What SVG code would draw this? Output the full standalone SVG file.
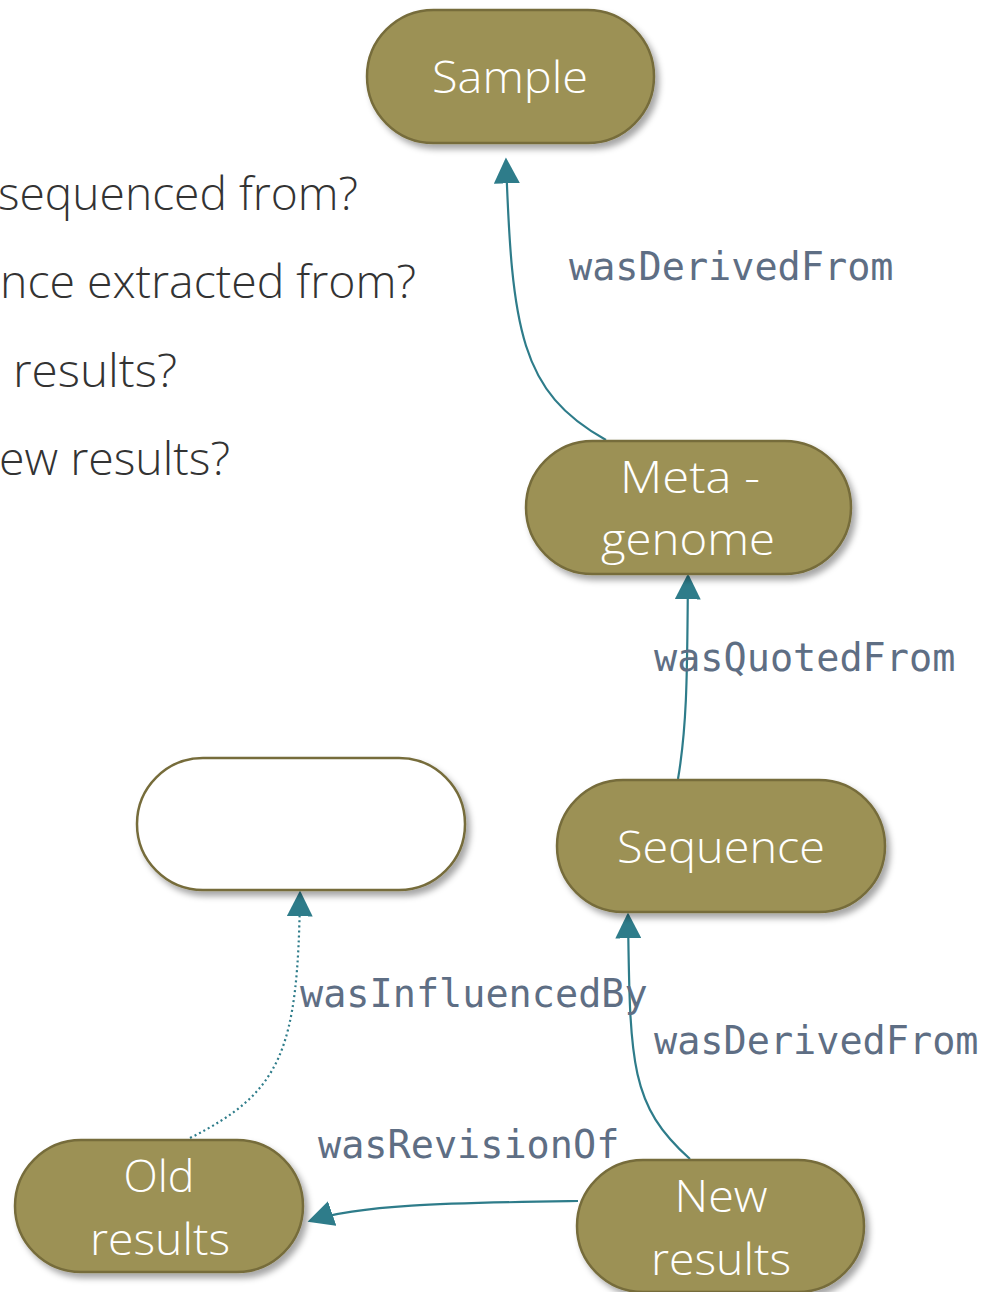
<svg xmlns="http://www.w3.org/2000/svg" width="986" height="1292" viewBox="0 0 986 1292">
  <defs>
    <filter id="shadow" x="-10%" y="-10%" width="125%" height="130%">
      <feDropShadow dx="4" dy="5" stdDeviation="3" flood-color="#000" flood-opacity="0.35"/>
    </filter>
    <marker id="arrow" viewBox="0 0 10 10" refX="9" refY="5" markerWidth="26" markerHeight="26" markerUnits="userSpaceOnUse" orient="auto">
      <path d="M0,0 L10,5 L0,10 z" fill="#2E7C8A"/>
    </marker>
    <style>
      .node { fill: #9C9155; stroke: #766C3B; stroke-width: 2.5; }
      .blank { fill: #FFFFFF; stroke: #766C3B; stroke-width: 2.5; }
      .label { font-family: "Open Sans", "Liberation Sans", sans-serif; font-weight: 300; font-size: 44px; fill: #FFFFFF; text-anchor: middle; }
      .edge { fill: none; stroke: #2E7C8A; stroke-width: 2.2; marker-end: url(#arrow); }
      .dotted { stroke-dasharray: 2 3; }
      .rel { font-family: "DejaVu Sans Mono", "Liberation Mono", monospace; font-size: 38.5px; fill: #5E6E84; }
      .question { font-family: "Open Sans", "Liberation Sans", sans-serif; font-weight: 300; font-size: 46px; fill: #333333; }
    </style>
  </defs>

  <!-- question list, running off the left edge -->
  <g id="questions">
    <text class="question" x="-2" y="210" textLength="360" lengthAdjust="spacingAndGlyphs">sequenced from?</text>
    <text class="question" x="0" y="298" textLength="416" lengthAdjust="spacingAndGlyphs">nce extracted from?</text>
    <text class="question" x="13" y="387" textLength="164" lengthAdjust="spacingAndGlyphs">results?</text>
    <text class="question" x="-1" y="475" textLength="231" lengthAdjust="spacingAndGlyphs">ew results?</text>
  </g>

  <!-- connectors -->
  <g id="connectors">
    <path class="edge" d="M606,440 C520,392 512,330 506,160"/>
    <path class="edge" d="M678,779 C688,720 687,660 688,576"/>
    <path class="edge" d="M690,1159 C630,1105 630,1065 628,915"/>
    <path class="edge" d="M578,1201 C450,1203 360,1204 310,1221"/>
    <path class="edge dotted" d="M190,1138 C282,1092 298,1050 300,893"/>
  </g>

  <!-- connector labels -->
  <g id="edge-labels">
    <text class="rel" x="569" y="280">wasDerivedFrom</text>
    <text class="rel" x="654" y="671">wasQuotedFrom</text>
    <text class="rel" x="300" y="1007">wasInfluencedBy</text>
    <text class="rel" x="654" y="1054">wasDerivedFrom</text>
    <text class="rel" x="318" y="1158">wasRevisionOf</text>
  </g>

  <g id="sample">
    <rect class="node" x="367" y="10" width="287" height="133" rx="66.5" filter="url(#shadow)"/>
    <text class="label" x="510" y="93" textLength="156" lengthAdjust="spacingAndGlyphs">Sample</text>
  </g>

  <g id="metagenome">
    <rect class="node" x="526" y="441" width="325" height="133" rx="66.5" filter="url(#shadow)"/>
    <text class="label" x="690" y="493" textLength="140" lengthAdjust="spacingAndGlyphs">Meta -</text>
    <text class="label" x="688" y="555" textLength="174" lengthAdjust="spacingAndGlyphs">genome</text>
  </g>

  <g id="sequence">
    <rect class="node" x="557" y="780" width="328" height="132" rx="66" filter="url(#shadow)"/>
    <text class="label" x="721" y="863" textLength="208" lengthAdjust="spacingAndGlyphs">Sequence</text>
  </g>

  <g id="unnamed">
    <rect class="blank" x="137" y="758" width="328" height="132" rx="66" filter="url(#shadow)"/>
  </g>

  <g id="old-results">
    <rect class="node" x="15" y="1140" width="288" height="132" rx="66" filter="url(#shadow)"/>
    <text class="label" x="159" y="1192" textLength="71" lengthAdjust="spacingAndGlyphs">Old</text>
    <text class="label" x="160" y="1255" textLength="140" lengthAdjust="spacingAndGlyphs">results</text>
  </g>

  <g id="new-results">
    <rect class="node" x="577" y="1160" width="287" height="132" rx="66" filter="url(#shadow)"/>
    <text class="label" x="721" y="1212" textLength="93" lengthAdjust="spacingAndGlyphs">New</text>
    <text class="label" x="721" y="1275" textLength="140" lengthAdjust="spacingAndGlyphs">results</text>
  </g>
</svg>
